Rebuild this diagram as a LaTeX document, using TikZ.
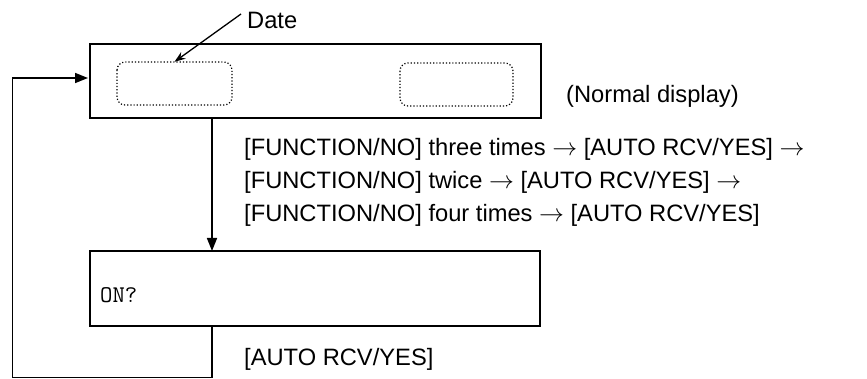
\documentclass[tikz,border=0pt]{standalone}
\usepackage{fontspec}
\setmainfont{Liberation Sans}
\usetikzlibrary{arrows.meta}
\newcommand{\ar}{$\rightarrow$}
\begin{document}
\begin{tikzpicture}[x=1pt,y=-1pt,
  box/.style={draw, line width=1.9pt},
  lcd/.style={draw, dotted, line width=1.2pt, rounded corners=8pt},
  lbl/.style={anchor=base west, inner sep=0pt, font=\fontsize{23.7}{26}\selectfont},
  arr/.style={-{Triangle[length=13pt,width=10pt]}, line width=1.6pt}]
\useasboundingbox (0,0) rectangle (867,379);
% top display
\draw[box] (90,44) rectangle (541,118);
\coordinate (topL) at (90,78);
\coordinate (topB) at (212,118);
\draw[lcd] (117,62) rectangle (232,105);
\node (date) [inner sep=0pt, minimum width=115pt, minimum height=43pt] at (174.5,83.5) {};
\draw[lcd] (400,63) rectangle (513,106);
\node[lbl] (normal) at (566,103) {(Normal display)};
\node[lbl] (datel) at (247,29) {Date};
\coordinate (dstart) at (241,14);
\draw[line width=1.3pt, -{Stealth[length=11pt,width=8pt]}] (dstart) -- (date.north);
% bottom display
\draw[box] (90,251) rectangle (540,326);
\coordinate (botT) at (212,251);
\coordinate (botB) at (212,326);
\node[anchor=base west, inner sep=0pt, font=\ttfamily\fontsize{24}{26}\selectfont] (on) at (100,302) {ON?};
% arrows
\draw[arr] (topB) -- (botT);
\coordinate (c1) at (212,377.5);
\coordinate (c2) at (12.5,377.5);
\coordinate (c3) at (12.5,78);
\draw[arr] (botB) -- (c1) -- (c2) -- (c3) -- ([xshift=-2pt]topL);
% texts
\node[lbl] (t1) at (244,156) {[FUNCTION/NO] three times \ar{} [AUTO RCV/YES] \ar};
\node[lbl] (t2) at (244,189) {[FUNCTION/NO] twice \ar{} [AUTO RCV/YES] \ar};
\node[lbl] (t3) at (244,222) {[FUNCTION/NO] four times \ar{} [AUTO RCV/YES]};
\node[lbl] (t4) at (244,365) {[AUTO RCV/YES]};
\end{tikzpicture}
\end{document}
